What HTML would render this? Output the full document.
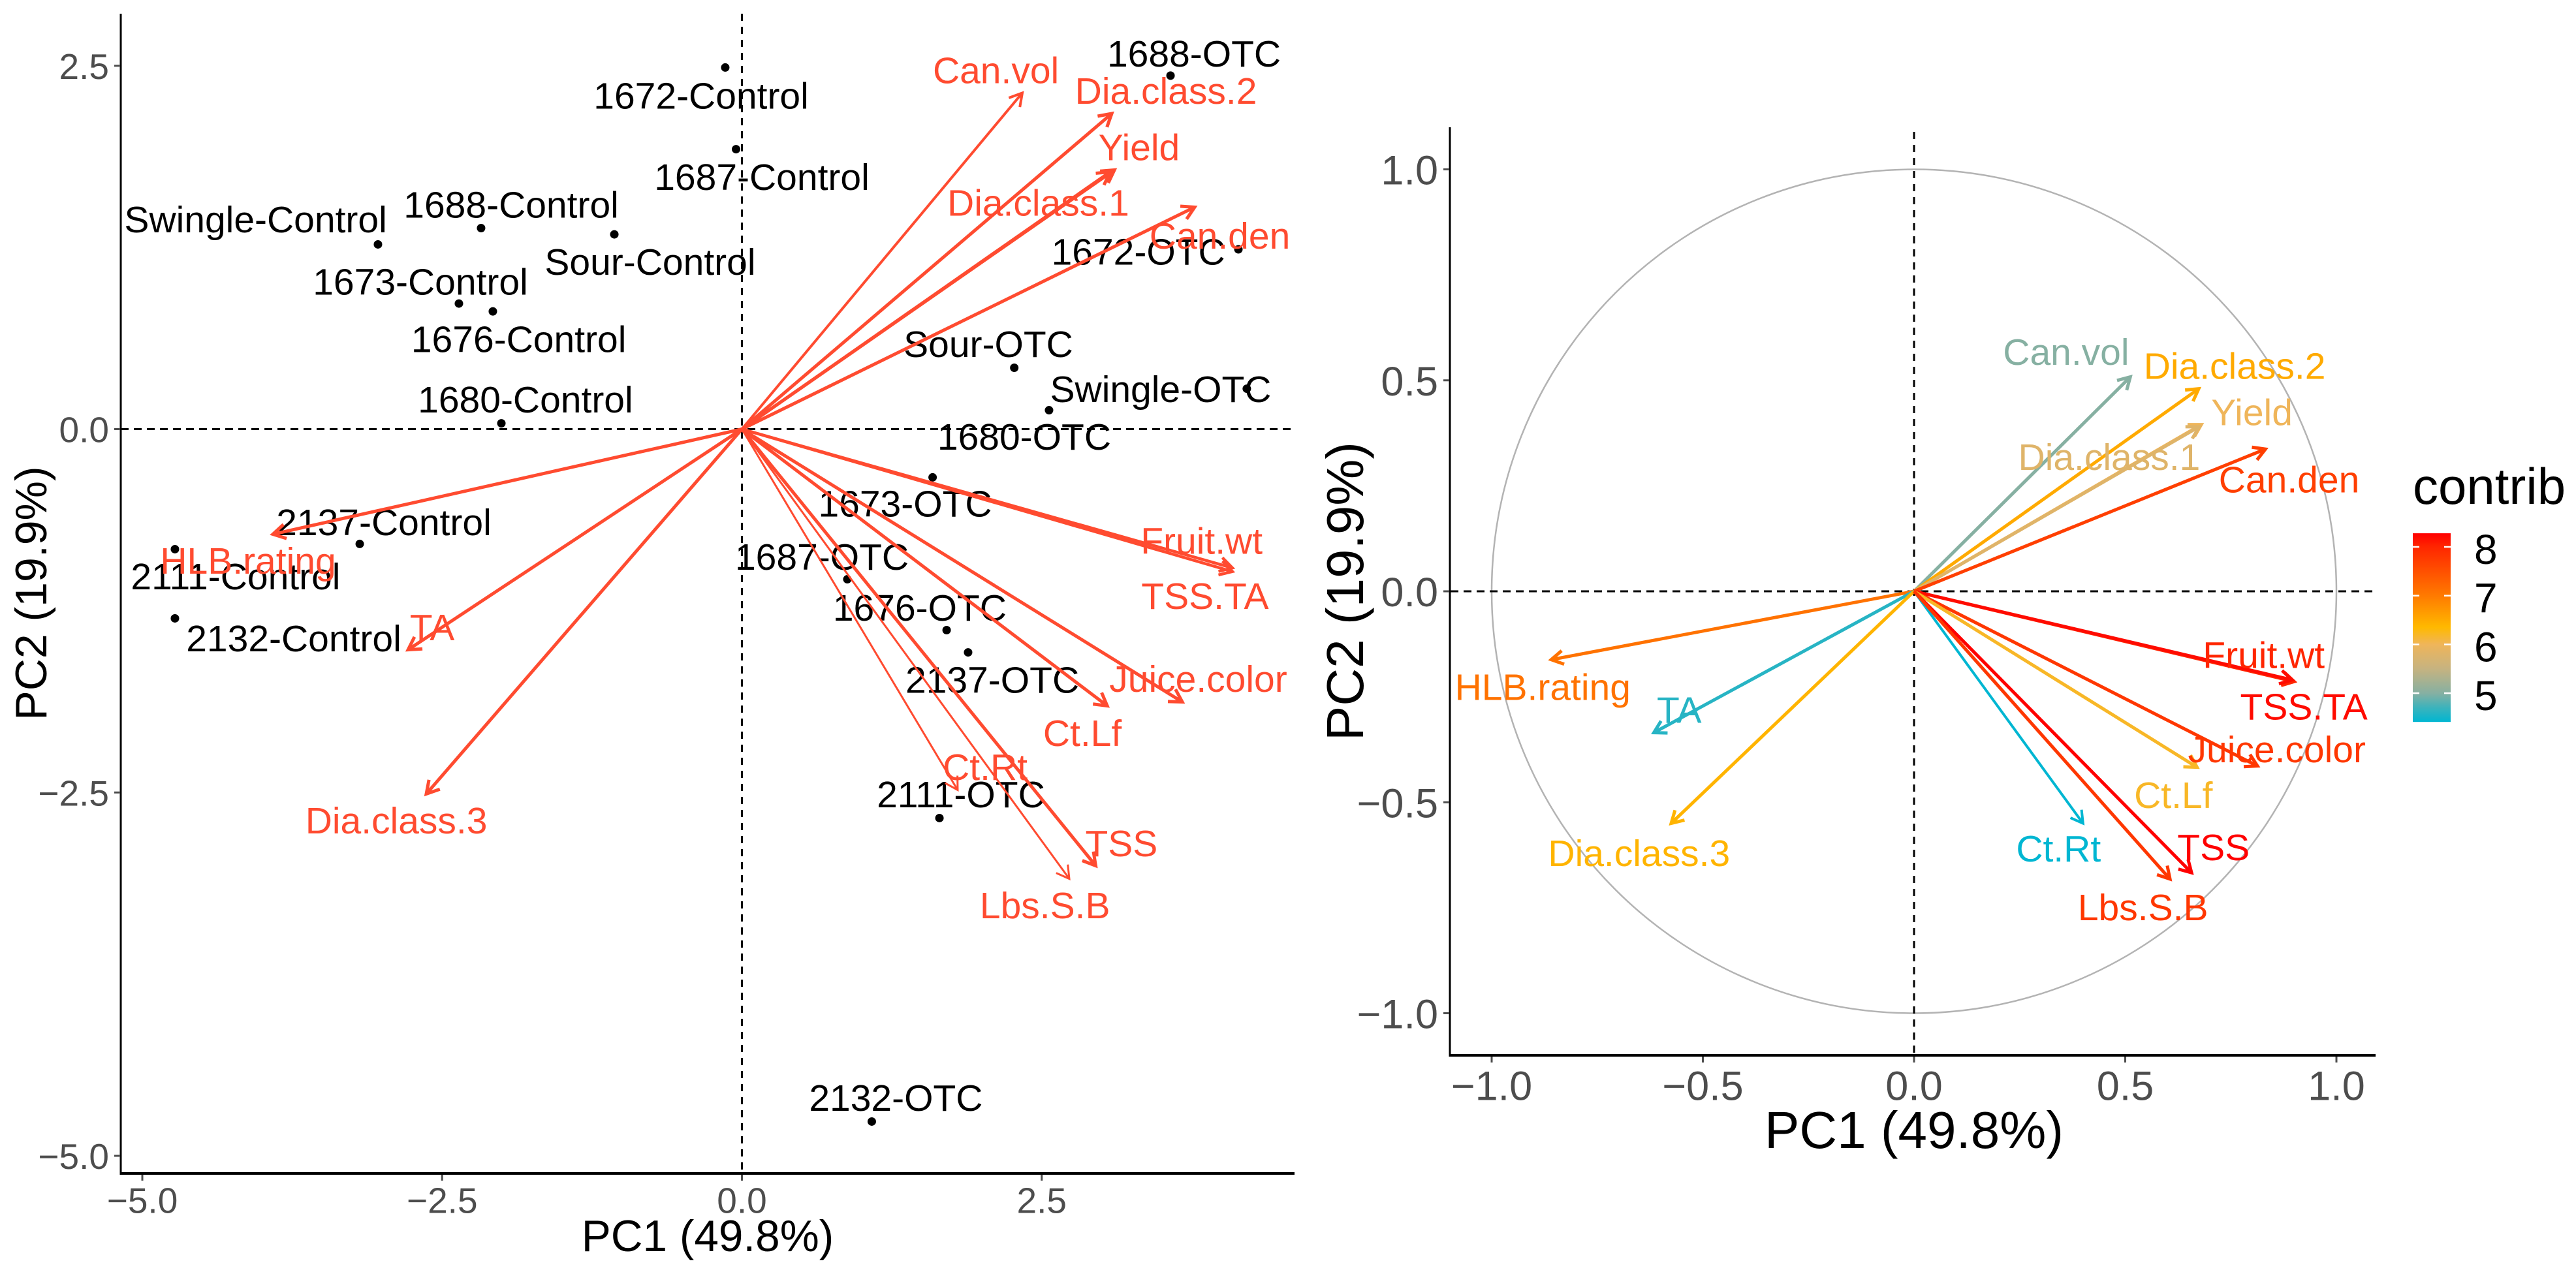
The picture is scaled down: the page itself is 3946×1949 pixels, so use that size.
<!DOCTYPE html>
<html>
<head>
<meta charset="utf-8">
<title>PCA biplots</title>
<style>
html,body{margin:0;padding:0;background:#fff;}
svg{display:block;}
text{font-family:"Liberation Sans",sans-serif;}
</style>
</head>
<body>
<svg id="chart" xmlns="http://www.w3.org/2000/svg" width="3946" height="1949" viewBox="0 0 3946 1949"></svg>
<script>
// ---- individuals (left biplot) ----
const indNames = ["1672-Control","1687-Control","Swingle-Control","1688-Control","Sour-Control","1673-Control","1676-Control","1680-Control","2137-Control","2111-Control","2132-Control","1688-OTC","1672-OTC","Sour-OTC","Swingle-OTC","1680-OTC","1673-OTC","1687-OTC","1676-OTC","2137-OTC","2111-OTC","2132-OTC"];
const indPc1 = [-0.139,-0.049,-3.035,-2.175,-1.064,-2.360,-2.077,-2.006,-3.187,-4.728,-4.728,3.574,4.140,2.271,4.210,2.561,1.590,0.879,1.707,1.886,1.647,1.083];
const indPc2 = [2.488,1.926,1.271,1.383,1.340,0.864,0.810,0.040,-0.790,-0.826,-1.302,2.432,1.237,0.422,0.278,0.130,-0.332,-1.033,-1.383,-1.536,-2.676,-4.764];
const indLabelPc1 = [-0.340,0.166,-4.055,-1.924,-0.765,-2.681,-1.861,-1.805,-2.986,-4.222,-3.737,3.770,3.305,2.055,3.492,2.354,1.361,0.667,1.483,2.088,1.826,1.284];
const indLabelPc2 = [2.297,1.738,1.446,1.546,1.154,1.017,0.621,0.207,-0.639,-1.010,-1.437,2.586,1.223,0.588,0.278,-0.049,-0.511,-0.876,-1.226,-1.722,-2.510,-4.598];

// ---- variables ----
const varNames = ["Can.vol","Dia.class.2","Yield","Dia.class.1","Can.den","Fruit.wt","TSS.TA","HLB.rating","TA","Dia.class.3","Juice.color","Ct.Lf","Ct.Rt","TSS","Lbs.S.B"];
const biplotPc1 = [2.338,3.084,3.106,3.070,3.775,4.090,4.090,-3.911,-2.784,-2.632,3.672,3.046,1.799,2.950,2.730];
const biplotPc2 = [2.313,2.171,1.783,1.769,1.527,-0.955,-0.980,-0.723,-1.518,-2.510,-1.877,-1.904,-2.483,-3.004,-3.094];
const biplotLabelPc1 = [2.118,3.536,3.312,2.471,3.985,3.833,3.862,-4.118,-2.583,-2.882,3.805,2.839,2.028,3.165,2.527];
const biplotLabelPc2 = [2.472,2.329,1.942,1.561,1.334,-0.766,-1.145,-0.903,-1.361,-2.690,-1.715,-2.088,-2.321,-2.847,-3.273];

const corrPc1 = [0.512,0.674,0.680,0.675,0.832,0.900,0.895,-0.859,-0.616,-0.575,0.813,0.670,0.400,0.657,0.606];
const corrPc2 = [0.508,0.480,0.395,0.390,0.337,-0.214,-0.210,-0.162,-0.335,-0.550,-0.414,-0.417,-0.550,-0.667,-0.682];
const corrLabelPc1 = [0.360,0.759,0.800,0.462,0.888,0.828,0.923,-0.879,-0.556,-0.651,0.859,0.614,0.342,0.709,0.542];
const corrLabelPc2 = [0.568,0.535,0.425,0.319,0.266,-0.150,-0.272,-0.226,-0.280,-0.620,-0.374,-0.482,-0.609,-0.606,-0.748];
const contrib = [5.0,6.5,6.0,5.8,7.7,8.0,8.2,7.1,4.6,6.4,7.8,6.2,4.41,8.28,7.8];

// ---- tick labels ----
const biplotXTicks = [-5,-2.5,0,2.5];
const biplotYTicks = [-5,-2.5,0,2.5];
const corrTicks = [-1,-0.5,0,0.5,1];
const legendTicks = [5,6,7,8];
const contribRange = [4.41,8.28];

// ---- contrib colour scale ----
const scaleValues = [4.41,4.7,5,5.5,6,6.35,7,8,8.28];
const scaleColors = ["#00B6D2","#3BB3BC","#86B0A2","#C6B380","#EFB55A","#FFB900","#FF7A00","#FF2600","#FF0000"];

const NS = "http://www.w3.org/2000/svg";
const svg = document.getElementById("chart");
function mk(tag, parent, props, txt){
  const e = document.createElementNS(NS, tag);
  for (const k in props) e.setAttribute(k, props[k]);
  if (txt !== undefined) e.textContent = txt;
  parent.appendChild(e);
  return e;
}
function fmt(v, d){ const s = Math.abs(v).toFixed(d); return (v < 0 ? "\u2212" : "") + s; }
function hex(c){ return [1,3,5].map(i => parseInt(c.substr(i,2),16)); }
function colorOf(v){
  if (v <= scaleValues[0]) return scaleColors[0];
  for (let i = 1; i < scaleValues.length; i++){
    if (v <= scaleValues[i]){
      const t = (v - scaleValues[i-1]) / (scaleValues[i] - scaleValues[i-1]);
      const a = hex(scaleColors[i-1]), b = hex(scaleColors[i]);
      return "rgb(" + a.map((x,j) => Math.round(x + (b[j]-x)*t)).join(",") + ")";
    }
  }
  return scaleColors[scaleColors.length-1];
}
const TICK = "#4D4D4D";
const BIPLOT_RED = "#FF4B30";

// axis functions
const xL = v => 1136.5 + v * 183.7;
const yL = v => 657.5 - v * 222.7;
const xR = v => 2932 + v * 647;
const yR = v => 906 - v * 646.5;
const yLeg = v => 838 + (8 - v) * 74.7;

function centeredText(parent, x, y, fs, fill, str){
  return mk("text", parent, {x:x, y:y + 0.358*fs, "font-size":fs, fill:fill, "text-anchor":"middle"}, str);
}
function arrow(parent, x0, y0, x1, y1, color, width, arm){
  const a = Math.atan2(y1-y0, x1-x0);
  mk("line", parent, {x1:x0, y1:y0, x2:x1, y2:y1, stroke:color, "stroke-width":width});
  const p = [[x1 + arm*Math.cos(a+Math.PI*5/6), y1 + arm*Math.sin(a+Math.PI*5/6)],[x1,y1],[x1 + arm*Math.cos(a-Math.PI*5/6), y1 + arm*Math.sin(a-Math.PI*5/6)]];
  mk("polyline", parent, {points:p.map(q => q.join(",")).join(" "), fill:"none", stroke:color, "stroke-width":width, "stroke-linejoin":"miter"});
}

// ======= LEFT BIPLOT =======
const left = mk("g", svg, {});



const lz1 = mk("line", left, {x1:185, x2:1983, y1:yL(0), y2:yL(0), stroke:"#000", "stroke-width":3, "stroke-dasharray":"12 8"});


const lz2 = mk("line", left, {x1:xL(0), x2:xL(0), y1:21, y2:1798, stroke:"#000", "stroke-width":3, "stroke-dasharray":"11 9"});



const lax = mk("line", left, {x1:185, x2:1983, y1:1798, y2:1798, stroke:"#000", "stroke-width":4});


const lay = mk("line", left, {x1:185, x2:185, y1:21, y2:1800, stroke:"#000", "stroke-width":3});



biplotXTicks.forEach(v => {
  const t = mk("line", left, {x1:xL(v), x2:xL(v), y1:1800, y2:1809, stroke:TICK, "stroke-width":3});
  
  
  const l = centeredText(left, xL(v), 1839, 55, TICK, fmt(v,1));
  
  
});
biplotYTicks.forEach(v => {
  const t = mk("line", left, {x1:175, x2:184, y1:yL(v), y2:yL(v), stroke:TICK, "stroke-width":3});
  
  
  const l = mk("text", left, {x:167, y:yL(v)+20, "font-size":55, fill:TICK, "text-anchor":"end"}, fmt(v,1));
  
  
});
const lxt = mk("text", left, {x:1084, y:1917, "font-size":67.5, fill:"#000", "text-anchor":"middle"}, "PC1 (49.8%)");


const lyt = mk("text", left, {transform:"translate(71,909) rotate(-90)", "font-size":68, fill:"#000", "text-anchor":"middle"}, "PC2 (19.9%)");



indNames.forEach((n,i) => {
  const c = mk("circle", left, {cx:xL(indPc1[i]), cy:yL(indPc2[i]), r:6.5, fill:"#000"});
  
  
});
indNames.forEach((n,i) => {
  const t = centeredText(left, xL(indLabelPc1[i]), yL(indLabelPc2[i]), 57, "#000", n);
  
  
});
const biplotThin = {"Ct.Rt":3, "Lbs.S.B":3, "Can.vol":4, "Fruit.wt":4.5, "TSS.TA":4.5};
varNames.forEach((n,i) => {
  const g = mk("g", left, {});
  
  
  arrow(g, xL(0), yL(0), xL(biplotPc1[i]), yL(biplotPc2[i]), BIPLOT_RED, biplotThin[n] || 5, 22);
});
varNames.forEach((n,i) => {
  const t = centeredText(left, xL(biplotLabelPc1[i]), yL(biplotLabelPc2[i]), 57, BIPLOT_RED, n);
  
  
});

// ======= RIGHT CORRELATION CIRCLE =======
const right = mk("g", svg, {});



const circ = mk("ellipse", right, {cx:xR(0), cy:yR(0), rx:xR(1)-xR(0), ry:yR(0)-yR(1), fill:"none", stroke:"#B3B3B3", "stroke-width":2.5});


const rz1 = mk("line", right, {x1:2222, x2:3639, y1:yR(0), y2:yR(0), stroke:"#000", "stroke-width":3, "stroke-dasharray":"12 8"});


const rz2 = mk("line", right, {x1:xR(0), x2:xR(0), y1:202, y2:1617, stroke:"#000", "stroke-width":3, "stroke-dasharray":"11 9"});



const rax = mk("line", right, {x1:2220, x2:3639, y1:1617, y2:1617, stroke:"#000", "stroke-width":4});


const ray = mk("line", right, {x1:2221, x2:2221, y1:195, y2:1619, stroke:"#000", "stroke-width":3});



corrTicks.forEach(v => {
  const t = mk("line", right, {x1:xR(v), x2:xR(v), y1:1619, y2:1628, stroke:TICK, "stroke-width":3});
  
  
  const l = centeredText(right, xR(v), 1663, 63, TICK, fmt(v,1));
  
  
  const t2 = mk("line", right, {x1:2211, x2:2220, y1:yR(v), y2:yR(v), stroke:TICK, "stroke-width":3});
  
  
  const l2 = mk("text", right, {x:2203, y:yR(v)+23, "font-size":63, fill:TICK, "text-anchor":"end"}, fmt(v,1));
  
  
});
const rxt = mk("text", right, {x:2932, y:1759, "font-size":80, fill:"#000", "text-anchor":"middle"}, "PC1 (49.8%)");


const ryt = mk("text", right, {transform:"translate(2088,906) rotate(-90)", "font-size":80, fill:"#000", "text-anchor":"middle"}, "PC2 (19.9%)");



const corrThin = {"Ct.Rt":4};
varNames.forEach((n,i) => {
  const g = mk("g", right, {});
  
  
  arrow(g, xR(0), yR(0), xR(corrPc1[i]), yR(corrPc2[i]), colorOf(contrib[i]), corrThin[n] || 5, 21);
});
varNames.forEach((n,i) => {
  const t = centeredText(right, xR(corrLabelPc1[i]), yR(corrLabelPc2[i]), 57, colorOf(contrib[i]), n);
  
  
});

// ======= LEGEND =======
const legend = mk("g", svg, {});


const defs = mk("defs", svg, {});
const grad = mk("linearGradient", defs, {id:"contribGrad", x1:0, y1:1, x2:0, y2:0});
scaleValues.forEach((v,i) => {
  mk("stop", grad, {offset:(v-contribRange[0])/(contribRange[1]-contribRange[0]), "stop-color":scaleColors[i]});
});
const lt = mk("text", legend, {x:3696, y:772, "font-size":78, fill:"#000"}, "contrib");


const bar = mk("rect", legend, {x:3696, y:yLeg(contribRange[1]), width:58, height:yLeg(contribRange[0])-yLeg(contribRange[1]), fill:"url(#contribGrad)"});


legendTicks.forEach(v => {
  const a = mk("line", legend, {x1:3696, x2:3706, y1:yLeg(v), y2:yLeg(v), stroke:"#fff", "stroke-width":2.5});
  
  
  const b = mk("line", legend, {x1:3744, x2:3754, y1:yLeg(v), y2:yLeg(v), stroke:"#fff", "stroke-width":2.5});
  
  
  const l = mk("text", legend, {x:3790, y:yLeg(v)+26, "font-size":64, fill:"#000"}, String(v));
  
  
});
</script>
</body>
</html>
